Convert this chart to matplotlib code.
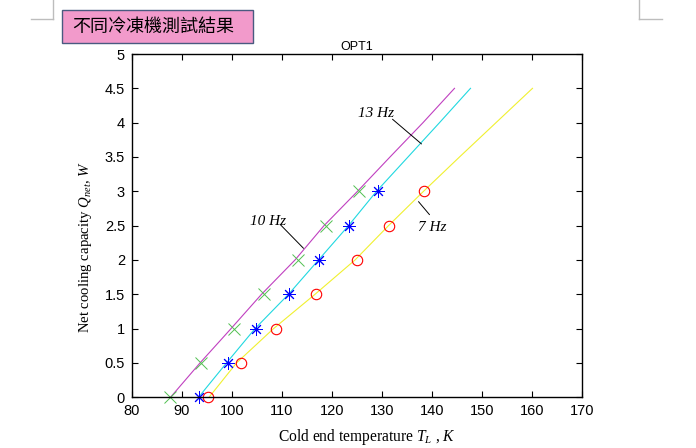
import matplotlib
matplotlib.use("Agg")
import matplotlib.pyplot as plt
from matplotlib.patches import Rectangle
from matplotlib.lines import Line2D

plt.rcParams["mathtext.fontset"] = "custom"
plt.rcParams["mathtext.it"] = "Liberation Serif:italic"
plt.rcParams["mathtext.rm"] = "Liberation Serif"

# ---- data ----
q_levels = [0, 0.5, 1, 1.5, 2, 2.5, 3]
t_green_x = [87.5, 93.8, 100.3, 106.3, 113.1, 118.8, 125.3]
t_blue_star = [93.4, 99.1, 104.7, 111.4, 117.3, 123.3, 129.1]
t_red_circle = [95.1, 101.7, 108.8, 116.8, 124.9, 131.3, 138.3]

line_q = [0, 0.5, 1, 1.5, 2, 2.5, 3, 3.5, 4, 4.5]
t_magenta = [87.7, 93.6, 99.8, 105.9, 112.6, 118.4, 125.1, 131.6, 138.2, 144.5]
t_cyan = [93.3, 98.9, 104.6, 111.3, 117.3, 123.3, 128.9, 135.2, 141.5, 147.7]
t_yellow = [95.4, 100.9, 108.3, 116.6, 124.6, 131.3, 138.3, 145.5, 152.8, 160.1]

x_ticks = [80, 90, 100, 110, 120, 130, 140, 150, 160, 170]
y_ticks = [0, 0.5, 1, 1.5, 2, 2.5, 3, 3.5, 4, 4.5, 5]
y_tick_labels = ["0", "0.5", "1", "1.5", "2", "2.5", "3", "3.5", "4", "4.5", "5"]

W, H = 696, 448
fig = plt.figure(figsize=(W / 100, H / 100), dpi=100)
fig.patch.set_facecolor("white")

ax = fig.add_axes([132 / W, (H - 397.3) / H, 450 / W, 343.3 / H])

ax.plot(t_magenta, line_q, color="#c040c0", lw=0.8)
ax.plot(t_cyan, line_q, color="#20d8e0", lw=0.8)
ax.plot(t_yellow, line_q, color="#f0f030", lw=0.8)

ax.plot(t_green_x, q_levels, linestyle="none", marker="x", ms=8, mew=0.7,
        color="#50c050", clip_on=False)
ax.plot(t_blue_star, q_levels, linestyle="none", marker=(8, 2, 0), ms=9, mew=0.7,
        color="#0000ff", clip_on=False)
ax.plot(t_red_circle, q_levels, linestyle="none", marker="o", ms=7.5, mew=0.8,
        mfc="none", mec="#ff0000", clip_on=False)

ax.set_xlim(80, 170)
ax.set_ylim(0, 5)
ax.set_xticks(x_ticks)
ax.set_xticklabels([str(v) for v in x_ticks])
ax.set_yticks(y_ticks)
ax.set_yticklabels(y_tick_labels)
ax.tick_params(direction="in", length=4, width=0.8, top=True, right=True,
               labelsize=10.5, pad=5)
for lab in ax.get_xticklabels() + ax.get_yticklabels():
    lab.set_family("Liberation Sans")
for s in ax.spines.values():
    s.set_linewidth(1.0)

ax.set_title("OPT1", fontsize=9, family="Liberation Sans", pad=3)

serif = "Liberation Serif"
ax.set_xlabel(r"Cold end temperature $T_L$ , $K$", fontsize=11.2, family=serif)
ax.set_ylabel(r"Net cooling capacity $Q_{net}$, $W$", fontsize=10.6, family=serif)
ax.xaxis.set_label_coords((367 - 132) / 450, -(437 - 397.3) / 343.3)
ax.yaxis.set_label_coords(-(132 - 86) / 450, (397.3 - 246.7) / 343.3)
ax.xaxis.label.set_va("center")
ax.yaxis.label.set_va("center")

# annotations
txt_kw = dict(fontsize=11, family=serif, style="italic", ha="center", va="center")
line_kw = dict(arrowstyle="-", color="black", lw=0.7, shrinkA=0, shrinkB=0)
ax.text(128.7, 4.14, "13 Hz", **txt_kw)
ax.annotate("", xy=(137.9, 3.69), xytext=(132.1, 4.05), arrowprops=line_kw)
ax.text(107.1, 2.56, "10 Hz", **txt_kw)
ax.annotate("", xy=(114.3, 2.17), xytext=(109.6, 2.52), arrowprops=line_kw)
ax.text(140.0, 2.48, "7 Hz", **txt_kw)
ax.annotate("", xy=(139.5, 2.66), xytext=(137.3, 2.85), arrowprops=line_kw)

# pink title box
fig.patches.append(Rectangle((62 / W, (H - 43) / H), 191 / W, 33 / H,
                             transform=fig.transFigure, facecolor="#f29acb",
                             edgecolor="#4a5a80", lw=1.0))
fig.text(72 / W, (H - 27) / H, "不同冷凍機測試結果",
         family=["Noto Sans CJK TC", "DejaVu Sans"], fontsize=13,
         ha="left", va="center", color="black")

# crop marks
gray = "#bdbdbd"
fig.lines.append(Line2D([53 / W, 53 / W], [1, (H - 19) / H], transform=fig.transFigure, color=gray, lw=1))
fig.lines.append(Line2D([31 / W, 53 / W], [(H - 19) / H, (H - 19) / H], transform=fig.transFigure, color=gray, lw=1))
fig.lines.append(Line2D([639 / W, 639 / W], [1, (H - 19) / H], transform=fig.transFigure, color=gray, lw=1))
fig.lines.append(Line2D([639 / W, 662 / W], [(H - 19) / H, (H - 19) / H], transform=fig.transFigure, color=gray, lw=1))

fig.savefig("out.png", dpi=100)
